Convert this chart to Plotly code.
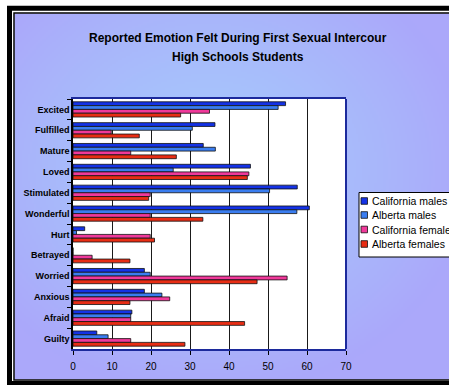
import base64
import struct
import zlib

import numpy as np
import plotly.graph_objects as go

# ---- data -------------------------------------------------------------
emotions = ["Excited", "Fulfilled", "Mature", "Loved", "Stimulated", "Wonderful",
            "Hurt", "Betrayed", "Worried", "Anxious", "Afraid", "Guilty"]

series_names = ["California males", "Alberta males", "California females", "Alberta females"]

california_males = [54.5, 36.4, 33.4, 45.5, 57.5, 60.6, 3.0, 0, 18.3, 18.3, 15.1, 6.1]
alberta_males = [52.6, 30.6, 36.5, 25.7, 50.4, 57.4, 0.9, 0, 19.8, 22.8, 14.8, 9.0]
california_females = [35.0, 9.8, 14.8, 45.1, 19.8, 19.8, 19.8, 4.9, 54.9, 24.8, 14.8, 14.8]
alberta_females = [27.6, 17.0, 26.5, 44.7, 19.4, 33.3, 20.9, 14.6, 47.2, 14.6, 44.0, 28.7]

x_ticks = [0, 10, 20, 30, 40, 50, 60, 70]

title_lines = ["Reported Emotion Felt During First Sexual Intercour",
               "High Schools Students"]

# ---- styling ----------------------------------------------------------
W, H = 449, 385
L, R, T, B = 73, 346, 99, 349          # plot area in pixels
colors = ["#1432e6", "#3a7df0", "#f0399a", "#e82d14"]
FONT = "Liberation Sans, Arial, sans-serif"


def px_x(px):
    return (px - L) / (R - L)


def px_y(py):
    return (B - py) / (B - T)


def gradient_png(w, h):
    """Soft elliptical lavender-to-light-blue backdrop as a PNG data URI."""
    yy, xx = np.mgrid[0:h, 0:w].astype(float)
    # centre of the lighter patch, in image fractions
    cx, cy = 0.44, 0.42
    d = np.sqrt(((xx / w - cx) / 0.60) ** 2 + ((yy / h - cy) / 0.62) ** 2)
    t = np.clip(d, 0, 1) ** 1.3
    centre = np.array([166, 202, 252], float)
    edge = np.array([171, 168, 250], float)
    img = (centre[None, None, :] * (1 - t[..., None]) + edge[None, None, :] * t[..., None])
    img = np.clip(img, 0, 255).astype(np.uint8)
    raw = b"".join(b"\x00" + img[j].tobytes() for j in range(h))

    def chunk(tag, data):
        c = struct.pack(">I", len(data)) + tag + data
        return c + struct.pack(">I", zlib.crc32(tag + data) & 0xFFFFFFFF)

    png = (b"\x89PNG\r\n\x1a\n"
           + chunk(b"IHDR", struct.pack(">IIBBBBB", w, h, 8, 2, 0, 0, 0))
           + chunk(b"IDAT", zlib.compress(raw, 9))
           + chunk(b"IEND", b""))
    return "data:image/png;base64," + base64.b64encode(png).decode()


fig = go.Figure()
for name, vals, col in zip(series_names,
                           [california_males, alberta_males, california_females, alberta_females],
                           colors):
    fig.add_trace(go.Bar(
        y=emotions, x=vals, name=name, orientation="h",
        marker=dict(color=col, line=dict(color="#111111", width=0.8)),
        showlegend=False,
    ))

shapes = []
annotations = []

# white plotting surface above the backdrop image
shapes.append(dict(type="rect", xref="paper", yref="paper", x0=0, x1=1, y0=0, y1=1,
                   fillcolor="white", line=dict(width=0), layer="below"))
# right edge of the plot frame
shapes.append(dict(type="line", xref="paper", yref="paper", x0=1, x1=1, y0=0, y1=1,
                   line=dict(color="#1c2a9c", width=2), layer="above"))

# outer double frame
shapes.append(dict(type="rect", xref="paper", yref="paper",
                   x0=px_x(9.5), x1=px_x(480), y0=px_y(8.3), y1=px_y(383.5),
                   line=dict(color="black", width=5), layer="above"))
shapes.append(dict(type="rect", xref="paper", yref="paper",
                   x0=px_x(14), x1=px_x(480), y0=px_y(13), y1=px_y(380),
                   line=dict(color="black", width=1.5), layer="above"))

# legend box
lg_x0, lg_y0, lg_y1 = 359, 192.5, 257
shapes.append(dict(type="rect", xref="paper", yref="paper",
                   x0=px_x(lg_x0), x1=px_x(480), y0=px_y(lg_y0), y1=px_y(lg_y1),
                   fillcolor="white", line=dict(color="black", width=1), layer="above"))
row_y = [201, 215, 229.5, 244]
for name, col, yc in zip(series_names, colors, row_y):
    shapes.append(dict(type="rect", xref="paper", yref="paper",
                       x0=px_x(361), x1=px_x(367.5), y0=px_y(yc - 3.3), y1=px_y(yc + 3.3),
                       fillcolor=col, line=dict(color="#111111", width=0.8), layer="above"))
    annotations.append(dict(text=name, xref="paper", yref="paper",
                            x=px_x(369.5), y=px_y(yc), xanchor="left", yanchor="middle",
                            showarrow=False, font=dict(family=FONT, size=10.5, color="black")))

# title, two centred lines
for line, yc in zip(title_lines, [37.5, 56.5]):
    annotations.append(dict(text=line, xref="paper", yref="paper",
                            x=px_x(237.5), y=px_y(yc), xanchor="center", yanchor="middle",
                            showarrow=False,
                            font=dict(family=FONT, size=12, color="black", weight="bold")))

fig.update_layout(
    width=W, height=H,
    margin=dict(l=L, r=W - R, t=T, b=H - B, pad=0),
    paper_bgcolor="white",
    plot_bgcolor="rgba(0,0,0,0)",
    barmode="group",
    bargap=0.27,
    bargroupgap=0,
    shapes=shapes,
    annotations=annotations,
    images=[dict(source=gradient_png(218, 183), xref="paper", yref="paper",
                 x=px_x(14.5), y=px_y(13.5),
                 sizex=(W + 5 - 14.5) / (R - L), sizey=(379.5 - 13.5) / (B - T),
                 xanchor="left", yanchor="top", sizing="stretch", layer="below")],
    xaxis=dict(
        range=[0, 70], tickvals=x_ticks, ticktext=[str(v) for v in x_ticks],
        showgrid=True, gridcolor="#1a1a1a", gridwidth=1.3,
        showline=True, linecolor="#1c2a9c", linewidth=2, mirror=True,
        ticks="outside", ticklen=4, tickcolor="black", tickwidth=1,
        ticklabelstandoff=3,
        tickfont=dict(family=FONT, size=10, color="black"),
        zeroline=False, fixedrange=True,
    ),
    yaxis=dict(
        autorange="reversed", type="category",
        showline=True, linecolor="black", linewidth=1.5,
        ticks="outside", ticklen=4, tickcolor="black", tickwidth=1,
        tickson="boundaries", showgrid=False,
        tickfont=dict(family=FONT, size=9, color="black", weight="bold"),
        fixedrange=True,
    ),
    font=dict(family=FONT),
)

fig.write_html("out.html")
